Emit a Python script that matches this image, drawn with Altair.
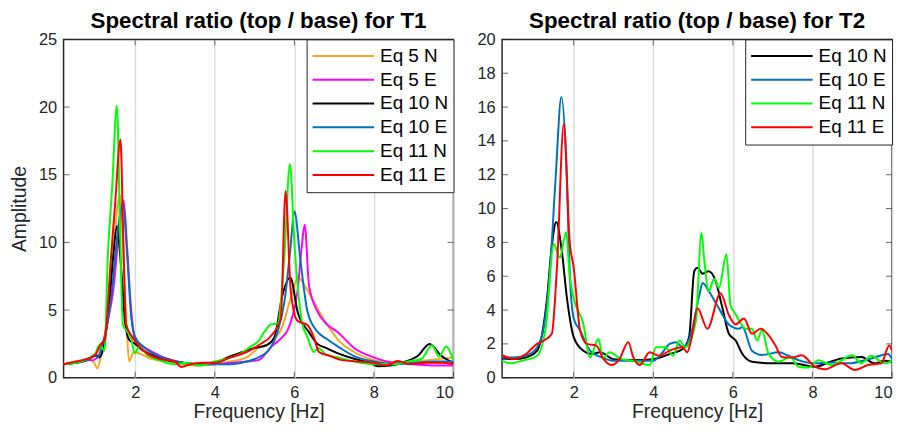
import altair as alt
import pandas as pd

FONT = "Liberation Sans, Arial, Helvetica, sans-serif"

# ---------------- T1 data ----------------
t1_names = ["Eq 5 N", "Eq 5 E", "Eq 10 N", "Eq 10 E", "Eq 11 N", "Eq 11 E"]
t1_colors = ["#F5A623", "#FF00FF", "#000000", "#0072BD", "#00FF00", "#FF0000"]

t1_eq5n_f = [0.2, 0.5, 0.8, 0.95, 1.05, 1.15, 1.3, 1.45, 1.62, 1.7, 1.78, 1.85, 1.96, 2.1, 2.4, 2.8, 3.2, 3.6, 4.0, 4.4, 4.8, 5.1, 5.4, 5.7, 5.9, 6.1, 6.3, 6.66, 6.9, 7.1, 7.5, 8.0, 8.5, 9.0, 9.35, 10.0]
t1_eq5n_a = [1.0, 1.1, 1.3, 1.2, 0.7, 1.8, 4.5, 9.5, 13.5, 9.0, 4.0, 1.2, 1.9, 1.8, 1.4, 1.2, 1.0, 0.9, 1.0, 1.2, 1.5, 2.2, 2.6, 3.8, 5.8, 7.4, 6.6, 4.7, 3.6, 2.8, 1.9, 1.3, 1.1, 1.2, 1.3, 1.5]

t1_eq5e_f = [0.2, 0.5, 0.8, 0.95, 1.05, 1.15, 1.3, 1.45, 1.6, 1.71, 1.8, 1.9, 2.0, 2.2, 2.5, 2.8, 3.2, 3.6, 4.0, 4.4, 4.8, 5.1, 5.42, 5.7, 5.83, 5.95, 6.08, 6.18, 6.26, 6.37, 6.58, 6.8, 7.1, 7.5, 8.0, 8.5, 9.0, 9.5, 10.0]
t1_eq5e_a = [1.0, 1.1, 1.3, 1.3, 1.5, 2.0, 4.0, 6.5, 11.0, 13.1, 9.5, 5.0, 2.8, 2.3, 1.8, 1.4, 1.1, 1.0, 1.0, 1.1, 1.2, 1.3, 2.3, 3.0, 3.5, 4.5, 6.4, 9.5, 11.3, 6.8, 4.9, 4.0, 3.35, 2.2, 1.5, 1.1, 1.0, 0.9, 0.9]

t1_eq10n_f = [0.2, 0.5, 0.8, 1.0, 1.1, 1.2, 1.35, 1.45, 1.54, 1.65, 1.75, 1.85, 2.0, 2.2, 2.5, 2.8, 3.2, 3.6, 4.0, 4.4, 4.7, 5.0, 5.3, 5.5, 5.7, 5.9, 6.08, 6.37, 6.58, 6.8, 7.1, 7.5, 7.9, 8.1, 8.4, 8.8, 9.1, 9.4, 9.7, 10.0]
t1_eq10n_a = [1.0, 1.1, 1.3, 1.7, 1.5, 2.2, 5.5, 9.0, 11.2, 8.0, 4.0, 2.8, 2.5, 2.0, 1.6, 1.3, 1.1, 1.0, 1.1, 1.6, 1.9, 2.2, 2.4, 3.0, 6.1, 7.4, 4.9, 3.35, 2.5, 2.2, 1.8, 1.4, 1.1, 0.85, 0.9, 1.2, 1.6, 2.5, 1.6, 1.1]

t1_eq10e_f = [0.2, 0.5, 0.8, 1.0, 1.06, 1.15, 1.3, 1.4, 1.55, 1.69, 1.8, 1.9, 2.0, 2.2, 2.5, 2.8, 3.2, 3.6, 4.0, 4.4, 4.8, 5.1, 5.4, 5.58, 5.75, 5.9, 6.0, 6.16, 6.33, 6.58, 6.8, 7.1, 7.5, 8.0, 8.5, 9.0, 9.5, 10.0]
t1_eq10e_a = [1.0, 1.1, 1.3, 1.6, 1.5, 2.2, 4.0, 6.0, 10.5, 12.9, 9.0, 4.5, 3.0, 2.3, 1.7, 1.4, 1.1, 1.0, 1.0, 1.0, 1.2, 1.5, 2.2, 3.4, 5.6, 9.5, 12.3, 8.5, 4.9, 3.4, 2.9, 2.3, 1.6, 1.2, 1.0, 1.1, 1.2, 1.2]

t1_eq11n_f = [0.2, 0.5, 0.8, 1.0, 1.1, 1.23, 1.31, 1.42, 1.54, 1.62, 1.69, 1.8, 1.89, 1.99, 2.1, 2.3, 2.6, 3.0, 3.3, 3.6, 4.0, 4.3, 4.6, 4.9, 5.1, 5.25, 5.42, 5.58, 5.75, 5.89, 6.0, 6.08, 6.2, 6.33, 6.49, 6.6, 6.8, 7.1, 7.5, 8.0, 8.5, 8.87, 9.2, 9.46, 9.64, 9.81, 10.0]
t1_eq11n_a = [1.0, 1.1, 1.4, 1.8, 2.4, 2.0, 8.8, 14.0, 20.1, 11.0, 3.95, 3.4, 3.0, 1.8, 2.3, 1.7, 1.3, 1.0, 1.1, 0.9, 1.2, 1.4, 1.7, 2.3, 2.7, 3.4, 3.95, 4.0, 9.0, 15.8, 10.0, 6.9, 4.0, 3.0, 1.9, 2.2, 1.7, 1.5, 1.2, 1.0, 1.0, 1.2, 1.4, 2.4, 1.55, 2.3, 1.3]

t1_eq11e_f = [0.2, 0.5, 0.8, 1.0, 1.14, 1.23, 1.39, 1.5, 1.63, 1.7, 1.77, 1.93, 2.05, 2.3, 2.6, 3.0, 3.15, 3.4, 3.7, 4.0, 4.4, 4.8, 5.1, 5.42, 5.66, 5.78, 5.91, 6.08, 6.33, 6.49, 6.62, 6.9, 7.2, 7.6, 8.0, 8.3, 8.6, 8.9, 9.3, 9.7, 10.0]
t1_eq11e_a = [1.0, 1.2, 1.4, 1.7, 2.5, 2.75, 8.8, 13.0, 17.6, 10.5, 3.95, 3.0, 2.5, 1.8, 1.4, 1.2, 0.8, 1.0, 1.1, 1.1, 1.5, 1.9, 2.4, 3.1, 4.4, 13.8, 6.4, 4.2, 3.9, 3.0, 1.9, 1.6, 1.3, 1.2, 1.1, 0.9, 1.23, 1.0, 1.1, 1.1, 1.0]

# ---------------- T2 data ----------------
t2_names = ["Eq 10 N", "Eq 10 E", "Eq 11 N", "Eq 11 E"]
t2_colors = ["#000000", "#0072BD", "#00FF00", "#FF0000"]

t2_eq10n_f = [0.2, 0.5, 0.8, 1.08, 1.2, 1.33, 1.45, 1.56, 1.7, 1.83, 2.0, 2.24, 2.45, 2.66, 3.0, 3.5, 4.0, 4.41, 4.74, 4.9, 5.03, 5.11, 5.24, 5.39, 5.57, 5.74, 5.9, 6.07, 6.24, 6.48, 7.0, 7.5, 8.06, 8.4, 8.73, 9.23, 9.56, 9.8, 10.0]
t2_eq10n_a = [1.14, 1.1, 1.2, 1.6, 2.5, 4.7, 7.8, 9.2, 7.5, 4.7, 2.4, 1.6, 1.4, 1.5, 1.1, 1.05, 1.1, 1.4, 1.7, 2.4, 6.3, 6.5, 6.15, 6.3, 5.7, 4.1, 2.6, 2.2, 1.4, 0.95, 0.85, 0.85, 0.65, 0.9, 1.14, 1.23, 0.85, 1.0, 0.95]

t2_eq10e_f = [0.2, 0.5, 0.8, 1.08, 1.25, 1.41, 1.55, 1.69, 1.8, 1.91, 2.0, 2.16, 2.41, 2.7, 3.0, 3.5, 4.0, 4.2, 4.41, 4.57, 4.74, 4.95, 5.16, 5.24, 5.4, 5.65, 5.9, 6.15, 6.24, 6.48, 6.73, 7.15, 7.4, 7.65, 8.06, 8.5, 8.9, 9.48, 9.9, 10.0]
t2_eq10e_a = [1.2, 1.2, 1.3, 1.8, 3.0, 6.6, 12.0, 16.6, 13.5, 5.7, 3.5, 2.8, 1.6, 1.2, 1.0, 1.0, 1.0, 1.4, 2.0, 2.1, 1.8, 2.6, 4.9, 5.6, 5.1, 4.1, 3.15, 2.9, 3.0, 1.6, 1.35, 1.5, 1.3, 1.04, 0.85, 0.9, 0.85, 1.14, 1.4, 1.1]

t2_eq11n_f = [0.2, 0.42, 0.7, 1.08, 1.3, 1.5, 1.65, 1.81, 1.9, 2.0, 2.24, 2.41, 2.62, 2.74, 2.9, 3.2, 3.5, 3.91, 4.07, 4.3, 4.5, 4.66, 4.8, 5.07, 5.21, 5.28, 5.39, 5.53, 5.65, 5.84, 5.94, 6.07, 6.32, 6.48, 6.61, 6.73, 6.9, 7.15, 7.44, 7.65, 7.9, 8.15, 8.48, 9.0, 9.23, 9.48, 9.81, 10.0]
t2_eq11n_a = [1.0, 0.85, 1.0, 1.3, 3.0, 7.9, 7.1, 8.6, 6.0, 4.7, 3.2, 1.2, 2.3, 1.14, 1.5, 1.1, 1.0, 0.75, 1.8, 1.8, 1.3, 2.2, 1.8, 3.35, 8.55, 7.0, 5.1, 5.85, 5.3, 7.3, 4.3, 3.75, 2.9, 2.9, 2.2, 2.8, 1.4, 0.95, 1.23, 0.65, 0.6, 1.04, 0.75, 1.33, 0.85, 1.3, 0.85, 1.0]

t2_eq11e_f = [0.2, 0.5, 0.8, 1.08, 1.25, 1.45, 1.58, 1.75, 1.9, 2.0, 2.16, 2.33, 2.57, 2.74, 2.95, 3.15, 3.37, 3.5, 3.66, 3.91, 4.15, 4.41, 4.74, 4.85, 4.95, 5.11, 5.36, 5.69, 5.9, 6.07, 6.28, 6.48, 6.7, 6.9, 7.07, 7.23, 7.5, 7.73, 8.06, 8.3, 8.73, 9.06, 9.4, 9.73, 9.93, 10.0]
t2_eq11e_a = [1.33, 1.1, 1.4, 2.0, 2.2, 2.6, 6.6, 15.0, 8.0, 6.5, 2.8, 2.0, 1.9, 1.14, 0.75, 1.1, 2.1, 1.2, 0.75, 1.5, 1.3, 1.6, 1.8, 1.5, 2.2, 4.1, 2.9, 5.0, 3.7, 3.15, 3.5, 2.6, 2.9, 2.5, 1.9, 1.23, 1.2, 1.33, 0.65, 0.5, 0.85, 0.46, 0.75, 0.85, 1.9, 1.6]

x_ticks = [2, 4, 6, 8, 10]
t1_y_ticks = [0, 5, 10, 15, 20, 25]
t2_y_ticks = [0, 2, 4, 6, 8, 10, 12, 14, 16, 18, 20]

t1_series = [(t1_eq5n_f, t1_eq5n_a), (t1_eq5e_f, t1_eq5e_a), (t1_eq10n_f, t1_eq10n_a),
             (t1_eq10e_f, t1_eq10e_a), (t1_eq11n_f, t1_eq11n_a), (t1_eq11e_f, t1_eq11e_a)]
t2_series = [(t2_eq10n_f, t2_eq10n_a), (t2_eq10e_f, t2_eq10e_a),
             (t2_eq11n_f, t2_eq11n_a), (t2_eq11e_f, t2_eq11e_a)]


def build_df(names, series):
    rows = []
    for i, (name, (fs, aa)) in enumerate(zip(names, series)):
        for j, (f, a) in enumerate(zip(fs, aa)):
            rows.append({"series": name, "order": i, "idx": j, "f": f, "A": a})
    return pd.DataFrame(rows)


W, H = 393, 341
FRAME = "#262626"


def panel(names, colors, series, ymax, yticks, title, ytitle):
    df = build_df(names, series)
    xs = alt.Scale(domain=[0.2, 10], nice=False, zero=False)
    ys = alt.Scale(domain=[0, ymax], nice=False, zero=False)

    def xenc(field):
        return alt.X(field, scale=xs, title="Frequency [Hz]",
                     axis=alt.Axis(values=x_ticks, grid=True, format="d"))

    def yenc(field):
        return alt.Y(field, scale=ys, title=ytitle,
                     axis=alt.Axis(values=yticks, grid=False, format="d"))

    lines = alt.Chart(df).mark_line(strokeWidth=2, interpolate="monotone", clip=True).encode(
        x=xenc("f:Q"),
        y=yenc("A:Q"),
        color=alt.Color("series:N", sort=names,
                        scale=alt.Scale(domain=names, range=colors),
                        legend=alt.Legend(orient="top-right", offset=0, title=None)),
        detail="order:N",
        order="idx:Q",
    )
    xt = pd.DataFrame({"t": x_ticks})
    yt = pd.DataFrame({"t": yticks})
    tick_bot = alt.Chart(xt).mark_tick(orient="vertical", size=6, thickness=1, color=FRAME).encode(
        x=xenc("t:Q"), y=alt.value(H - 3))
    tick_top = alt.Chart(xt).mark_tick(orient="vertical", size=6, thickness=1, color=FRAME).encode(
        x=xenc("t:Q"), y=alt.value(3))
    tick_left = alt.Chart(yt).mark_tick(orient="horizontal", size=6, thickness=1, color=FRAME).encode(
        y=yenc("t:Q"), x=alt.value(3))
    tick_right = alt.Chart(yt).mark_tick(orient="horizontal", size=6, thickness=1, color=FRAME).encode(
        y=yenc("t:Q"), x=alt.value(W - 3))
    return alt.layer(lines, tick_bot, tick_top, tick_left, tick_right).properties(
        width=W, height=H, title=title)


left = panel(t1_names, t1_colors, t1_series, 25, t1_y_ticks,
             "Spectral ratio (top / base) for T1", "Amplitude")
right = panel(t2_names, t2_colors, t2_series, 20, t2_y_ticks,
              "Spectral ratio (top / base) for T2", None)

chart = alt.hconcat(left, right, spacing=20).resolve_scale(
    color="independent", x="independent", y="independent"
).properties(
    padding={"left": 0, "top": -1, "right": 0, "bottom": 0}
).configure_view(
    stroke=FRAME, strokeWidth=1.5
).configure_axis(
    labelFont=FONT, labelFontSize=16.5, labelColor=FRAME,
    titleFont=FONT, titleFontSize=19.5, titleFontWeight="normal", titleColor=FRAME,
    ticks=False, tickSize=0, domain=False,
    gridColor="#DCDCDC", gridWidth=1.5, labelPadding=7,
).configure_axisX(
    titlePadding=2, labelPadding=7
).configure_axisY(
    titlePadding=9
).configure_title(
    font=FONT, fontSize=22.5, fontWeight="bold", color="#000000", offset=-1
).configure_legend(
    labelFont=FONT, labelFontSize=19, labelColor="#000000",
    strokeColor=FRAME, fillColor="white", padding=5,
    symbolType="stroke", symbolSize=3844, symbolStrokeWidth=2,
    clipHeight=23.3, rowPadding=0, labelOffset=5, labelLimit=300,
    cornerRadius=0, symbolOpacity=1,
)

chart.save("out.html", embed_options={"renderer": "svg", "actions": False})
